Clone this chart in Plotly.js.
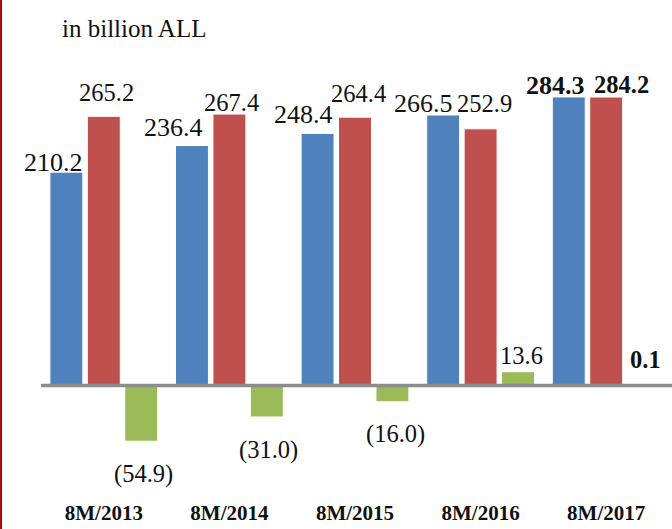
<!DOCTYPE html>
<html>
<head>
<meta charset="utf-8">
<script src="https://cdn.plot.ly/plotly-3.0.1.min.js"></script>
<style>
  html, body { margin: 0; padding: 0; background: #fff; }
  #wrap { position: relative; width: 672px; height: 529px; }
  #chart { width: 672px; height: 529px; }
  #edge { position: absolute; left: 0px; top: 0; width: 2px; height: 529px; background: #b00a0a; z-index: 5; }
</style>
</head>
<body>
<div id="wrap"><div id="edge"></div><div id="chart"></div></div>
<script>
// ---- data ----
const categories = ["8M/2013", "8M/2014", "8M/2015", "8M/2016", "8M/2017"];
const seriesBlue = [210.2, 236.4, 248.4, 266.5, 284.3];
const seriesRed = [265.2, 267.4, 264.4, 252.9, 284.2];
const seriesGreen = [-54.9, -31.0, -16.0, 13.6, 0.1];
const unitLabel = "in billion ALL";

// ---- styling (label nudges in pixels, mimicking the hand-placed labels) ----
const blueDx = [-13, -18, -14, -20, -13];
const blueDy = [10, 18, 19, 12, 11];
const redDx = [3, 2, 3, 4, 15];
const redDy = [24, 12, 24, 25, 13];
const greenDx = [2, 2, 3, 3, 2];
const greenDy = [-33, -33, -32, 16, 26];
const boldLast = [false, false, false, false, true];

const colors = { blue: "#4f81bd", red: "#c0504d", green: "#9bbb59" };
const fontFam = "'Liberation Serif', 'Times New Roman', serif";

const W = 672, H = 529;
const margin = { l: 41, r: 3, t: 40, b: 49 };
const bargap = 0.106;
const plotW = W - margin.l - margin.r;
const slotPx = plotW / categories.length * (1 - bargap) / 3;

function fmt(v) {
  const a = Math.abs(v).toFixed(1);
  return v < 0 ? "(" + a + ")" : a;
}

const xIdx = categories.map((c, i) => i);

function mkBar(name, vals, color) {
  return {
    type: "bar", name: name, x: xIdx, y: vals,
    marker: { color: color, line: { color: "#ffffff", width: 1 } },
    hoverinfo: "x+y"
  };
}

const traces = [
  mkBar("blue", seriesBlue, colors.blue),
  mkBar("red", seriesRed, colors.red),
  mkBar("green", seriesGreen, colors.green)
];

const annotations = [];
[[seriesBlue, blueDx, blueDy, -1, 26], [seriesRed, redDx, redDy, 0, 24.5], [seriesGreen, greenDx, greenDy, 1, 24.5]].forEach(([vals, dx, dy, slot, fs]) => {
  vals.forEach((v, i) => {
    const t = fmt(v);
    annotations.push({
      x: i, y: v, xref: "x", yref: "y",
      text: boldLast[i] ? "<b>" + t + "</b>" : t,
      showarrow: false,
      xanchor: "center", yanchor: "middle",
      xshift: slot * slotPx + dx[i], yshift: dy[i],
      font: { family: fontFam, size: fs, color: "#111111" }
    });
  });
});

const layout = {
  width: W, height: H,
  margin: margin,
  paper_bgcolor: "#ffffff", plot_bgcolor: "#ffffff",
  showlegend: false,
  barmode: "group",
  bargap: bargap,
  bargroupgap: 0.12,
  title: {
    text: unitLabel,
    x: 62 / W, xref: "container", xanchor: "left",
    y: 1 - 28 / H, yref: "container", yanchor: "middle",
    font: { family: fontFam, size: 25, color: "#111111" }
  },
  xaxis: {
    tickmode: "array", tickvals: xIdx, ticktext: categories.map(c => "<b>" + c + "</b>"),
    range: [-0.5, categories.length - 0.5],
    showgrid: false, zeroline: false, showline: false, ticks: "",
    ticklabelstandoff: 18,
    tickfont: { family: fontFam, size: 21, color: "#111111" }
  },
  yaxis: {
    range: [-93.1, 340.4],
    showgrid: false, zeroline: false, showline: false, showticklabels: false, ticks: ""
  },
  shapes: [{
    type: "line", xref: "paper", yref: "y",
    x0: 0, x1: (plotW + margin.r) / plotW, y0: 0, y1: 0,
    line: { color: "#8c8c8c", width: 3.5 }, layer: "above"
  }],
  annotations: annotations
};

Plotly.newPlot("chart", traces, layout, { displayModeBar: false, staticPlot: true });
</script>
</body>
</html>
